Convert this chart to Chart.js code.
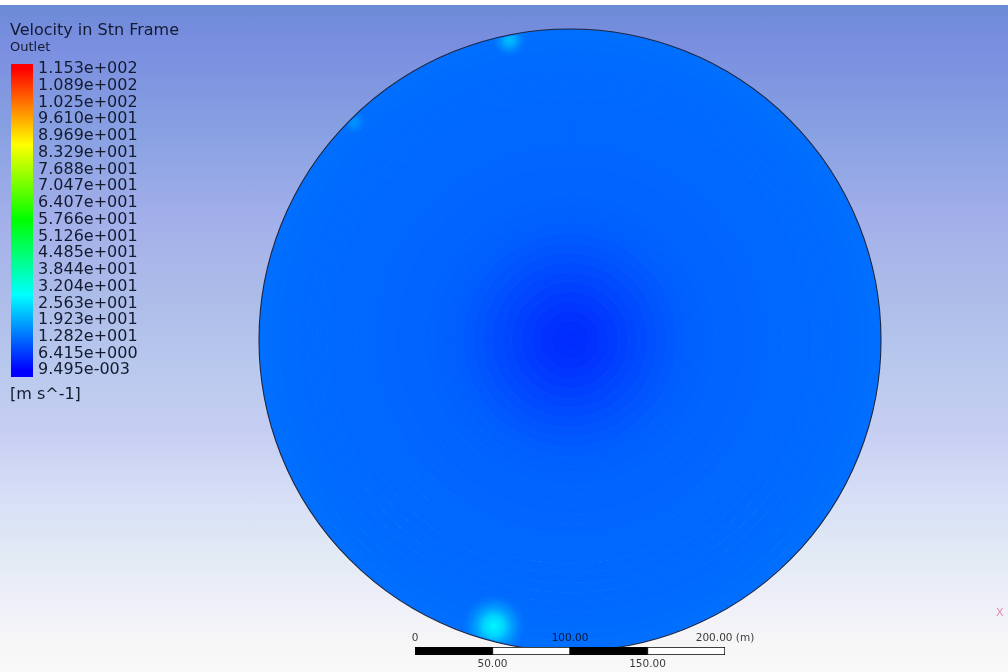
<!DOCTYPE html>
<html>
<head>
<meta charset="utf-8">
<title>Velocity in Stn Frame - Outlet</title>
<script src="https://cdn.jsdelivr.net/npm/chart.js@4.4.1/dist/chart.umd.min.js"></script>
<style>
  html, body { margin: 0; padding: 0; width: 1008px; height: 672px; overflow: hidden; }
  body {
    position: relative;
    font-family: "DejaVu Sans", sans-serif;
    color: #141a30;
    background: linear-gradient(to bottom,
      #ffffff 0px, #ffffff 5px, #6c8bd6 5px, #7a8ee0 43px, #87a0e2 129px,
      #a4b0ea 223px, #adbde9 300px, #bccbee 386px, #c6cdf2 429px,
      #d5def6 493px, #e2eaf4 557px, #f0f0fa 609px, #f6f6f6 643px, #f9f9f9 672px);
  }
  canvas { position: absolute; }
  .txt { position: absolute; white-space: nowrap; line-height: 1; }
</style>
</head>
<body>
<canvas id="disc" width="1008" height="672" style="left:0;top:0"></canvas>
<canvas id="spots" width="1008" height="672" style="left:0;top:0"></canvas>
<canvas id="legend" width="200" height="400" style="left:0;top:0"></canvas>
<canvas id="scalebar" width="420" height="52" style="left:365px;top:620px"></canvas>
<div class="txt" id="plotTitle" style="left:10px;top:22px;font-size:16px"></div>
<div class="txt" id="locName" style="left:10px;top:40px;font-size:13px"></div>
<div class="txt" id="unitText" style="left:10px;top:386px;font-size:16px"></div>
<div class="txt" id="axisX" style="left:996px;top:607px;font-size:11px;color:#e58aa6">X</div>
<script>
// ---- contour legend ----
const plotTitle = 'Velocity in Stn Frame';
const locationName = 'Outlet';
const unitLabel = '[m s^-1]';
const legendLabels = [
  '1.153e+002', '1.089e+002', '1.025e+002', '9.610e+001', '8.969e+001',
  '8.329e+001', '7.688e+001', '7.047e+001', '6.407e+001', '5.766e+001',
  '5.126e+001', '4.485e+001', '3.844e+001', '3.204e+001', '2.563e+001',
  '1.923e+001', '1.282e+001', '6.415e+000', '9.495e-003'
];
const legendValues = legendLabels.map(Number);

// ---- outlet speed field [m/s] ----
// ring-averaged speed from the axis (first) out to the rim (last)
const ringSpeeds = [
  5.0, 5.2, 5.6, 6.1, 6.7, 7.3, 7.9, 8.5, 9.1, 9.6,
  10.1, 10.5, 10.8, 11.0, 11.2, 11.3, 11.4, 11.4, 11.5, 11.5,
  11.6, 11.6, 11.7, 11.8, 11.8, 11.9, 12.0, 12.0, 12.1, 12.2,
  12.3, 12.5
];
const discRadius = 200;              // outlet radius [m]
// local high-speed spots near the rim (x, y in m, extent in m, speed in m/s)
const spotX = [-49, -39, -139];
const spotY = [-184, 193, 140];
const spotExtent = [22, 12, 9];
const spotSpeed = [29, 22, 17];

// ---- length scale bar [m] ----
const scaleSegments = [50, 50, 50, 50];
const scaleTopTicks = [0, 100, 200];
const scaleTopLabels = ['0', '100.00', '200.00 (m)'];
const scaleBottomTicks = [50, 150];
const scaleBottomLabels = ['50.00', '150.00'];

document.getElementById('plotTitle').textContent = plotTitle;
document.getElementById('locName').textContent = locationName;
document.getElementById('unitText').textContent = unitLabel;

const vMax = Math.max(...legendValues);
const vMin = Math.min(...legendValues);

// rainbow colour map: blue - cyan - green - yellow - red
const mapStops = [
  [0.00, [0, 0, 255]],
  [0.25, [0, 255, 255]],
  [0.50, [0, 255, 0]],
  [0.75, [255, 255, 0]],
  [1.00, [255, 0, 0]]
];
function mapRGB(v) {
  const f = Math.min(1, Math.max(0, (v - vMin) / (vMax - vMin)));
  for (let i = 1; i < mapStops.length; i++) {
    const [f1, c1] = mapStops[i];
    const [f0, c0] = mapStops[i - 1];
    if (f <= f1) {
      const t = (f - f0) / (f1 - f0);
      return c0.map((c, k) => Math.round(c + (c1[k] - c) * t));
    }
  }
  return mapStops[mapStops.length - 1][1];
}
function mapColor(v, a) {
  const [r, g, b] = mapRGB(v);
  return a === undefined ? `rgb(${r},${g},${b})` : `rgba(${r},${g},${b},${a})`;
}

const common = {
  responsive: false,
  animation: false,
  events: [],
  plugins: { legend: { display: false }, tooltip: { enabled: false } }
};
const discPadding = { left: 259, right: 127, top: 29, bottom: 21 };

// ---- outlet disc: one ring per radial station ----
const rimOutline = {
  id: 'rimOutline',
  afterDatasetsDraw(chart) {
    const arc = chart.getDatasetMeta(0).data[0];
    if (!arc) return;
    const ctx = chart.ctx;
    ctx.save();
    ctx.beginPath();
    ctx.arc(arc.x, arc.y, arc.outerRadius + 0.5, 0, Math.PI * 2);
    ctx.strokeStyle = '#1b2440';
    ctx.lineWidth = 1.1;
    ctx.stroke();
    ctx.restore();
  }
};
new Chart(document.getElementById('disc'), {
  type: 'pie',
  data: {
    labels: [locationName],
    datasets: ringSpeeds.slice().reverse().map(v => ({
      data: [1],
      backgroundColor: mapColor(v),
      borderColor: mapColor(v),
      borderWidth: 1,
      hoverOffset: 0,
      offset: 0
    }))
  },
  options: Object.assign({}, common, { layout: { padding: discPadding } }),
  plugins: [rimOutline]
});

// ---- high-speed spots, clipped to the outlet ----
const discClip = {
  id: 'discClip',
  beforeDatasetsDraw(chart) {
    const { ctx, scales: { x, y } } = chart;
    const cx = x.getPixelForValue(0), cy = y.getPixelForValue(0);
    const r = x.getPixelForValue(discRadius) - cx;
    ctx.save();
    ctx.beginPath();
    ctx.arc(cx, cy, r - 1, 0, Math.PI * 2);
    ctx.clip();
  },
  afterDatasetsDraw(chart) { chart.ctx.restore(); }
};
function spotPixelRadius(c) {
  const s = c.chart.scales.x;
  if (!c.raw) return 0;
  return Math.abs(s.getPixelForValue(c.raw.ext) - s.getPixelForValue(0));
}
const rimSpeed = ringSpeeds[ringSpeeds.length - 1];
new Chart(document.getElementById('spots'), {
  type: 'scatter',
  data: {
    datasets: [{
      data: spotX.map((x, i) => ({ x, y: spotY[i], ext: spotExtent[i], v: spotSpeed[i] })),
      showLine: false,
      clip: false,
      pointRadius: spotPixelRadius,
      pointBorderWidth: 0,
      pointBackgroundColor(c) {
        const chart = c.chart;
        if (!chart.chartArea || !c.raw) return 'transparent';
        const px = chart.scales.x.getPixelForValue(c.raw.x);
        const py = chart.scales.y.getPixelForValue(c.raw.y);
        const r = spotPixelRadius(c);
        const g = chart.ctx.createRadialGradient(px, py, 0, px, py, r);
        g.addColorStop(0, mapColor(c.raw.v, 0.95));
        g.addColorStop(0.3, mapColor(c.raw.v * 0.85 + rimSpeed * 0.15, 0.8));
        g.addColorStop(0.65, mapColor((c.raw.v + rimSpeed) / 2, 0.4));
        g.addColorStop(1, mapColor(rimSpeed, 0));
        return g;
      }
    }]
  },
  options: Object.assign({}, common, {
    layout: { padding: discPadding },
    scales: {
      x: { type: 'linear', min: -discRadius, max: discRadius, display: false },
      y: { type: 'linear', min: -discRadius, max: discRadius, display: false }
    }
  }),
  plugins: [discClip]
});

// ---- colour legend ----
const legendStep = legendValues[0] - legendValues[1];
const barHigh = vMax + 0.3 * legendStep;
const barLow = vMin - 0.4 * legendStep;
new Chart(document.getElementById('legend'), {
  type: 'bar',
  data: {
    labels: [locationName],
    datasets: [{
      data: [[barLow, barHigh]],
      borderWidth: 0,
      barPercentage: 1,
      categoryPercentage: 1,
      backgroundColor(c) {
        const chart = c.chart;
        if (!chart.chartArea) return 'transparent';
        const ys = chart.scales.y;
        const g = chart.ctx.createLinearGradient(0, ys.getPixelForValue(vMin), 0, ys.getPixelForValue(vMax));
        mapStops.forEach(([f, [r, gg, b]]) => g.addColorStop(f, `rgb(${r},${gg},${b})`));
        return g;
      }
    }]
  },
  options: Object.assign({}, common, {
    layout: { padding: { left: 11, right: 17, top: 64, bottom: 23 } },
    scales: {
      x: { display: false },
      y: {
        position: 'right',
        min: barLow,
        max: barHigh,
        bounds: 'data',
        grid: { display: false, drawTicks: false },
        border: { display: false },
        afterBuildTicks(s) { s.ticks = legendValues.map(v => ({ value: v })); },
        afterFit(s) { s.width = 150; },
        ticks: {
          autoSkip: false,
          padding: 5,
          color: '#141a30',
          font: { family: 'DejaVu Sans', size: 16, lineHeight: 1 },
          callback: (v, i) => legendLabels[i]
        }
      }
    }
  })
});

// ---- length scale ----
const scaleFont = { family: 'DejaVu Sans', size: 10.5 };
new Chart(document.getElementById('scalebar'), {
  type: 'bar',
  data: {
    labels: ['scale'],
    datasets: scaleSegments.map((len, i) => ({
      data: [len],
      backgroundColor: i % 2 ? '#ffffff' : '#000000',
      borderColor: '#000000',
      borderWidth: 1,
      borderSkipped: false,
      barPercentage: 1,
      categoryPercentage: 1,
      xAxisID: 'x'
    }))
  },
  options: Object.assign({}, common, {
    indexAxis: 'y',
    layout: { padding: { left: 50, right: 60, top: 11, bottom: 2 } },
    scales: {
      y: { display: false, stacked: true },
      x: {
        type: 'linear', position: 'bottom', stacked: true, min: 0, max: 200, bounds: 'data',
        grid: { display: false, drawTicks: false }, border: { display: false },
        afterBuildTicks(s) { s.ticks = scaleBottomTicks.map(v => ({ value: v })); },
        afterFit(s) { s.height = 15; },
        ticks: { autoSkip: false, maxRotation: 0, padding: 3, color: 'rgba(0,0,0,0.78)', font: scaleFont,
                 callback: (v, i) => scaleBottomLabels[i] }
      },
      xTop: {
        type: 'linear', axis: 'x', position: 'top', min: 0, max: 200, bounds: 'data',
        grid: { display: false, drawTicks: false }, border: { display: false },
        afterBuildTicks(s) { s.ticks = scaleTopTicks.map(v => ({ value: v })); },
        afterFit(s) { s.height = 16; },
        ticks: { autoSkip: false, maxRotation: 0, padding: 2, color: 'rgba(0,0,0,0.78)', font: scaleFont,
                 callback: (v, i) => scaleTopLabels[i] }
      }
    }
  })
});
</script>
</body>
</html>
